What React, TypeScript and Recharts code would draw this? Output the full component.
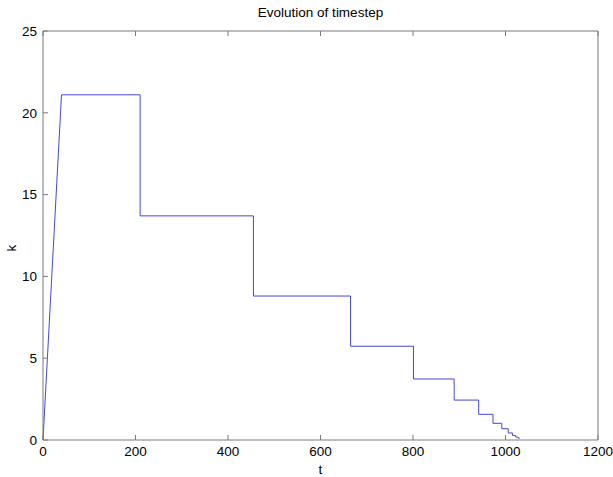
import { Line, LineChart, XAxis, YAxis } from "recharts";

// start-up ramp of the timestep
const rampT = [0, 40];
const rampK = [0, 21.1];

// piecewise-constant timestep levels and the times where they change
const levelK = [21.1, 13.7, 8.8, 5.73, 3.73, 2.44, 1.57, 1.02, 0.69, 0.43, 0.28, 0.18, 0.12];
const switchT = [210, 455, 665, 801, 889, 942, 973, 992, 1006, 1015, 1022, 1027];
const endT = 1031;

const xTicks = [0, 200, 400, 600, 800, 1000, 1200];
const yTicks = [0, 5, 10, 15, 20, 25];

const lineColor = "#4646d8";
const axisColor = "#7a7a7a";
const font = "'Liberation Sans', Arial, Helvetica, sans-serif";

function buildSeries() {
  const points: Array<{ t: number; k: number }> = rampT.map((t, i) => ({ t, k: rampK[i] }));
  levelK.forEach((k, i) => {
    const start = i === 0 ? rampT[rampT.length - 1] : switchT[i - 1];
    const end = i < switchT.length ? switchT[i] : endT;
    if (i > 0) points.push({ t: start, k });
    points.push({ t: end, k });
  });
  return points;
}

const series = buildSeries();
const tickStyle = { fill: "#000", fontSize: 13.5, fontFamily: font };

// tick marks only, no label (box axes on top and right)
function NoLabel() {
  return <g />;
}

export default function App() {
  return (
    <div style={{ position: "absolute", left: 0, top: 0, width: 613, height: 477, background: "#fff" }}>
      <div
        style={{
          position: "absolute",
          left: 43,
          width: 555,
          top: 5,
          textAlign: "center",
          fontFamily: font,
          fontSize: 13.5,
          color: "#000"
        }}
      >
        Evolution of timestep
      </div>
      <div
        style={{
          position: "absolute",
          left: 4,
          top: 238,
          width: 16,
          height: 20,
          lineHeight: "20px",
          textAlign: "center",
          transform: "rotate(-90deg)",
          fontFamily: font,
          fontSize: 13.5,
          color: "#000"
        }}
      >
        k
      </div>
      <LineChart width={613} height={477} data={series} margin={{ top: 30, right: 14, bottom: 0, left: 0 }}>
        <XAxis
          dataKey="t"
          type="number"
          domain={[0, 1200]}
          ticks={xTicks}
          height={37}
          tickSize={-5}
          tickMargin={11}
          stroke={axisColor}
          tick={tickStyle}
          label={{ value: "t", position: "insideBottom", offset: 3, fill: "#000", fontSize: 13.5, fontFamily: font }}
        />
        <XAxis
          xAxisId="top"
          dataKey="t"
          type="number"
          orientation="top"
          domain={[0, 1200]}
          ticks={xTicks}
          height={1}
          tickSize={-5}
          tick={<NoLabel />}
          stroke={axisColor}
        />
        <YAxis
          type="number"
          domain={[0, 25]}
          ticks={yTicks}
          width={43}
          tickSize={-5}
          tickMargin={11}
          stroke={axisColor}
          tick={tickStyle}
        />
        <YAxis
          yAxisId="right"
          type="number"
          orientation="right"
          domain={[0, 25]}
          ticks={yTicks}
          width={1}
          tickSize={-5}
          tick={<NoLabel />}
          stroke={axisColor}
        />
        <Line
          dataKey="k"
          type="linear"
          stroke={lineColor}
          strokeWidth={1}
          dot={false}
          isAnimationActive={false}
        />
      </LineChart>
    </div>
  );
}
